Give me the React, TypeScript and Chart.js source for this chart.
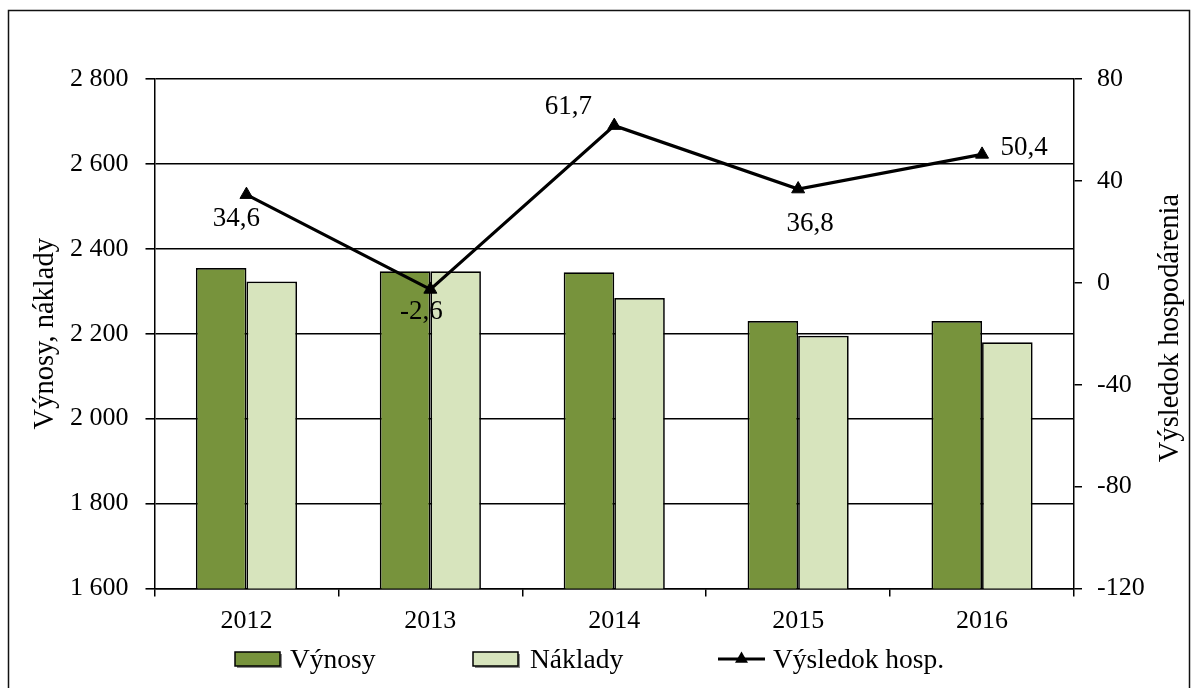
import React, { useEffect, useRef } from "react";
import { Chart, registerables } from "chart.js";

Chart.register(...registerables);

// ---- Data ----
const categories = ["2012", "2013", "2014", "2015", "2016"];
const vynosy = [2355, 2347, 2345, 2230, 2230];
const naklady = [2323, 2347, 2284, 2195, 2180];
const vysledok = [34.6, -2.6, 61.7, 36.8, 50.4];
const leftTicks = [1600, 1800, 2000, 2200, 2400, 2600, 2800];
const rightTicks = [-120, -80, -40, 0, 40, 80];
const seriesLabels = ["Výnosy", "Náklady", "Výsledok hosp."];
const leftTitle = "Výnosy, náklady";
const rightTitle = "Výsledok hospodárenia";

// ---- Styles / layout ----
const FONT = "'Liberation Serif', 'Times New Roman', serif";
const FS = 26;
const TITLE_FS = 28.5;
const LABEL_FS = 27;
const LEGEND_FS = 27.5;
const GREEN = "#77933C";
const LIGHT = "#D7E4BD";
const labelOffsets = [
  [-10, 24],
  [-9, 22],
  [-46, -19],
  [12, 35],
  [42, -6],
];

const fmtThousands = (v: number) =>
  String(v).replace(/\B(?=(\d{3})+(?!\d))/g, " ");
const fmtDec = (v: number) => v.toFixed(1).replace(".", ",");

const framePlugin = {
  id: "frame",
  beforeDraw(chart: any) {
    const ctx = chart.ctx;
    ctx.save();
    ctx.fillStyle = "#fff";
    ctx.fillRect(0, 0, chart.width, chart.height);
    ctx.strokeStyle = "#111";
    ctx.lineWidth = 1.5;
    ctx.strokeRect(8.5, 10.5, 1181, 700);
    ctx.restore();
  },
};

const rightTitlePlugin = {
  id: "rightTitle",
  afterDraw(chart: any) {
    const ctx = chart.ctx;
    ctx.save();
    ctx.font = `${TITLE_FS}px ${FONT}`;
    ctx.fillStyle = "#000";
    ctx.textAlign = "center";
    ctx.textBaseline = "middle";
    ctx.translate(1171, 328);
    ctx.rotate(-Math.PI / 2);
    ctx.fillText(rightTitle, 0, 0);
    ctx.restore();
  },
};

const dataLabelPlugin = {
  id: "dataLabels",
  afterDatasetsDraw(chart: any) {
    const ctx = chart.ctx;
    const idx = chart.data.datasets.findIndex((d: any) => d.type === "line");
    const meta = chart.getDatasetMeta(idx);
    ctx.save();
    ctx.font = `${LABEL_FS}px ${FONT}`;
    ctx.fillStyle = "#000";
    ctx.textAlign = "center";
    ctx.textBaseline = "middle";
    meta.data.forEach((pt: any, i: number) => {
      const [dx, dy] = labelOffsets[i];
      ctx.fillText(fmtDec(vysledok[i]), pt.x + dx, pt.y + dy);
    });
    ctx.restore();
  },
};

const legendPlugin = {
  id: "customLegend",
  afterDraw(chart: any) {
    const ctx = chart.ctx;
    const cy = 659;
    ctx.save();
    ctx.font = `${LEGEND_FS}px ${FONT}`;
    ctx.textBaseline = "middle";
    ctx.textAlign = "left";
    const boxes = [
      { x: 235, color: GREEN, tx: 290 },
      { x: 473, color: LIGHT, tx: 530 },
    ];
    boxes.forEach((b, i) => {
      ctx.fillStyle = "rgba(60,60,60,0.6)";
      ctx.fillRect(b.x + 2, cy - 7 + 2, 45, 14);
      ctx.fillStyle = b.color;
      ctx.fillRect(b.x, cy - 7, 45, 14);
      ctx.strokeStyle = "#000";
      ctx.lineWidth = 1.5;
      ctx.strokeRect(b.x, cy - 7, 45, 14);
      ctx.fillStyle = "#000";
      ctx.fillText(seriesLabels[i], b.tx, cy + 2);
    });
    // line item
    ctx.strokeStyle = "#000";
    ctx.lineWidth = 3;
    ctx.beginPath();
    ctx.moveTo(718, cy);
    ctx.lineTo(765, cy);
    ctx.stroke();
    ctx.fillStyle = "#000";
    ctx.beginPath();
    const r = 7.5;
    const mx = 741.5;
    ctx.moveTo(mx, cy - r);
    ctx.lineTo(mx + r * 0.866, cy + r / 2);
    ctx.lineTo(mx - r * 0.866, cy + r / 2);
    ctx.closePath();
    ctx.fill();
    ctx.fillText(seriesLabels[2], 773, cy + 2);
    ctx.restore();
  },
};

export default function App() {
  const ref = useRef<HTMLCanvasElement | null>(null);

  useEffect(() => {
    if (!ref.current) return;
    const chart = new Chart(ref.current, {
      type: "bar",
      data: {
        labels: categories,
        datasets: [
          {
            type: "line",
            label: seriesLabels[2],
            data: vysledok,
            yAxisID: "y1",
            borderColor: "#000",
            backgroundColor: "#000",
            borderWidth: 3.2,
            pointStyle: "triangle",
            pointRadius: 7.5,
            pointBorderWidth: 1,
            pointBackgroundColor: "#000",
            pointBorderColor: "#000",
            tension: 0,
            order: 0,
          } as any,
          {
            type: "bar",
            label: seriesLabels[0],
            data: vynosy,
            yAxisID: "y",
            backgroundColor: GREEN,
            borderColor: "#000",
            borderWidth: 1.7,
            categoryPercentage: 0.55,
            barPercentage: 1,
            order: 1,
          },
          {
            type: "bar",
            label: seriesLabels[1],
            data: naklady,
            yAxisID: "y",
            backgroundColor: LIGHT,
            borderColor: "#000",
            borderWidth: 1.7,
            categoryPercentage: 0.55,
            barPercentage: 1,
            order: 2,
          },
        ],
      },
      options: {
        responsive: false,
        animation: false,
        devicePixelRatio: 1,
        layout: { padding: { top: 79, left: 0, right: 0, bottom: 0 } },
        plugins: {
          legend: { display: false },
          tooltip: { enabled: false },
        },
        scales: {
          x: {
            type: "category",
            offset: true,
            grid: {
              offset: true,
              drawOnChartArea: false,
              drawTicks: true,
              tickLength: 8,
              color: "#000",
              lineWidth: 1.5,
            },
            border: { display: true, color: "#000", width: 1.5 },
            ticks: {
              color: "#000",
              font: { family: FONT, size: FS },
              padding: 9,
              maxRotation: 0,
            },
            afterFit: (s: any) => {
              s.height = 688 - 588.5;
            },
          },
          y: {
            type: "linear",
            position: "left",
            min: 1600,
            max: 2800,
            afterBuildTicks: (s: any) => {
              s.ticks = leftTicks.map((v) => ({ value: v }));
            },
            grid: {
              drawOnChartArea: true,
              drawTicks: true,
              tickLength: 9,
              color: "#000",
              lineWidth: 1.6,
            },
            border: { display: true, color: "#000", width: 1.5 },
            ticks: {
              color: "#000",
              font: { family: FONT, size: FS },
              padding: 17,
              callback: (v: any) => fmtThousands(Number(v)),
            },
            title: {
              display: true,
              text: leftTitle,
              color: "#000",
              font: { family: FONT, size: TITLE_FS },
              padding: { top: 28, bottom: 0 },
            },
            afterFit: (s: any) => {
              s.width = 154.5;
            },
          },
          y1: {
            type: "linear",
            position: "right",
            min: -120,
            max: 80,
            afterBuildTicks: (s: any) => {
              s.ticks = rightTicks.map((v) => ({ value: v }));
            },
            grid: {
              drawOnChartArea: false,
              drawTicks: true,
              tickLength: 8,
              color: "#000",
              lineWidth: 1.5,
            },
            border: { display: true, color: "#000", width: 1.5 },
            ticks: {
              color: "#000",
              font: { family: FONT, size: FS },
              padding: 15,
              callback: (v: any) => String(v),
            },
            title: { display: false },
            afterFit: (s: any) => {
              s.width = 1198 - 1074;
            },
          },
        },
      },
      plugins: [framePlugin, dataLabelPlugin, legendPlugin, rightTitlePlugin],
    });
    return () => chart.destroy();
  }, []);

  return (
    <div
      style={{
        position: "absolute",
        left: 0,
        top: 0,
        width: 1198,
        height: 688,
        overflow: "hidden",
      }}
    >
      <canvas ref={ref} width={1198} height={688} style={{ display: "block" }} />
    </div>
  );
}
